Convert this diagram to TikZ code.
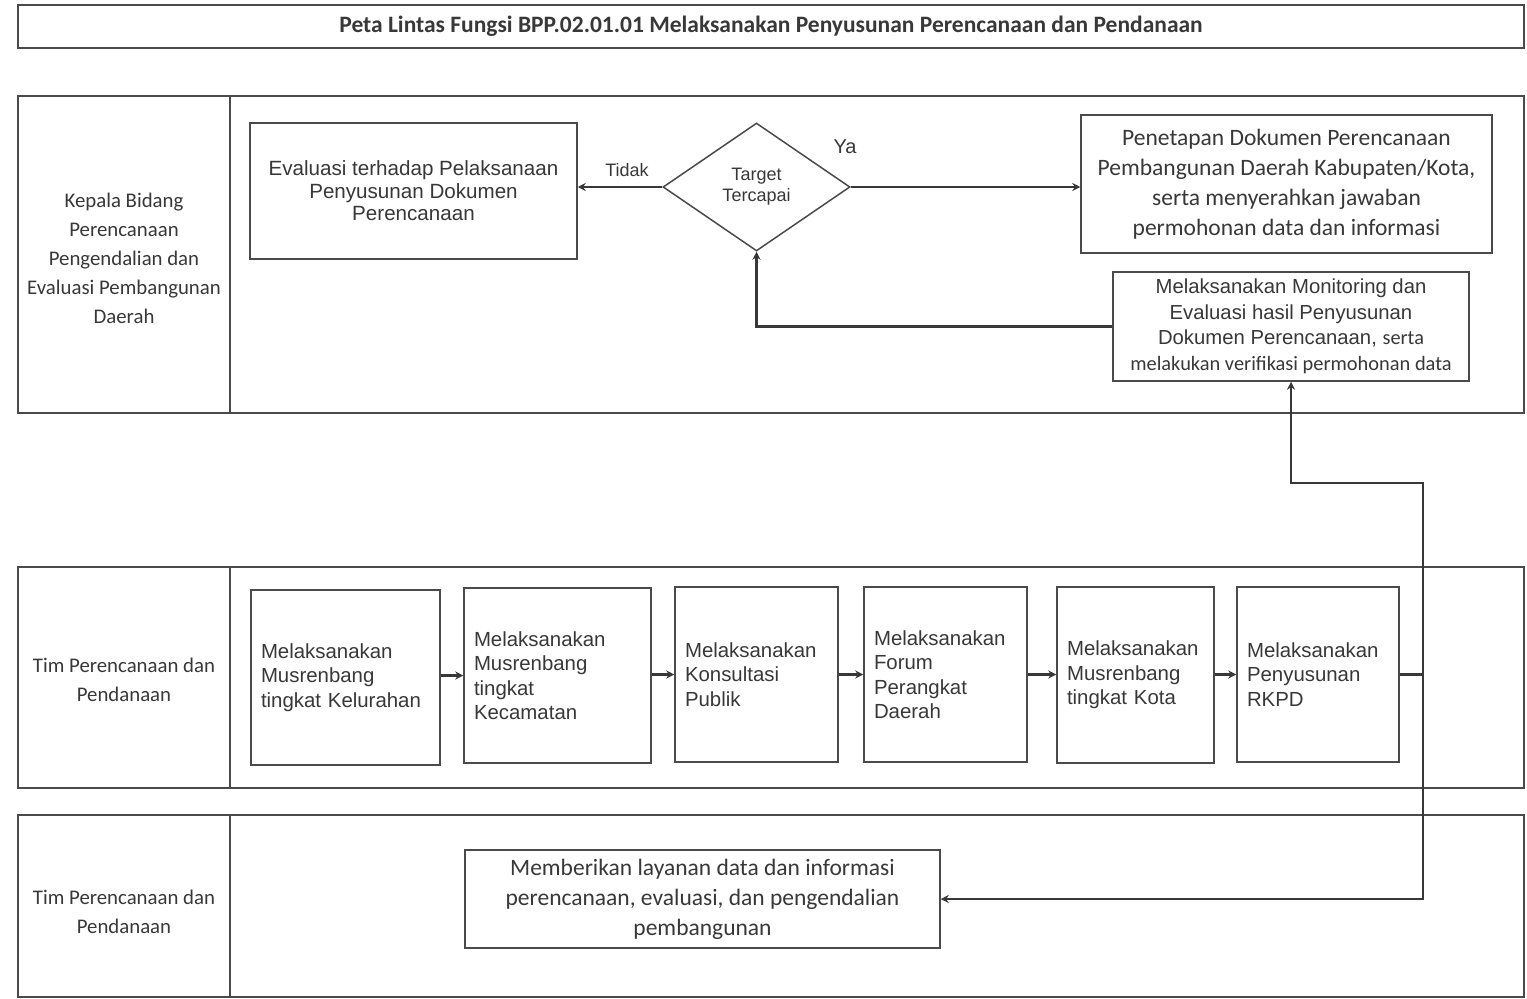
\documentclass[tikz,border=0pt]{standalone}
\usepackage{fontspec}
\setmainfont{Liberation Sans}
\newfontfamily\carl{Carlito}
\usetikzlibrary{arrows.meta,shapes.geometric}
\definecolor{ink}{HTML}{383838}
\definecolor{edge}{HTML}{4A4A4A}
\begin{document}
\begin{tikzpicture}[x=1pt,y=-1pt,
  lane/.style={draw=edge,line width=1.5pt},
  box/.style={draw=edge,line width=1.5pt,rectangle,inner sep=0pt,text=ink},
  abox/.style={box,align=center,font=\fontsize{20.6}{24.5}\selectfont},
  sbox/.style={box,align=left,font=\fontsize{20.4}{24.5}\selectfont},
  cbox/.style={box,align=center,font=\carl\fontsize{23.5}{30}\selectfont},
  conn/.style={draw=ink,line width=2.6pt},
  arr/.style={conn,-{Stealth[length=8pt,width=8pt]}},
  lbl/.style={text=ink,align=center,font=\carl\fontsize{20.8}{29}\selectfont},
  small/.style={text=ink,font=\fontsize{18}{21}\selectfont}
]
\useasboundingbox (0,0) rectangle (1527,999);
\fill[white] (0,0) rectangle (1527,999);

% title
\node[box,minimum width=1506pt,minimum height=43pt,font=\carl\bfseries\fontsize{23.5}{26}\selectfont] (title) at (771,26.5)
  {Peta Lintas Fungsi BPP.02.01.01 Melaksanakan Penyusunan Perencanaan dan Pendanaan};

% lanes
\draw[lane] (18,96) rectangle (1524,413);
\draw[lane] (230,96) -- (230,413);
\draw[lane] (18,567) rectangle (1524,788);
\draw[lane] (230,567) -- (230,788);
\draw[lane] (18,815) rectangle (1524,997);
\draw[lane] (230,815) -- (230,997);

\node[lbl] (l1) at (124,258) {Kepala Bidang\\Perencanaan\\Pengendalian dan\\Evaluasi Pembangunan\\Daerah};
\node[lbl] (l2) at (124,680) {Tim Perencanaan dan\\Pendanaan};
\node[lbl] (l3) at (124,912) {Tim Perencanaan dan\\Pendanaan};

% lane 1
\node[abox,minimum width=327pt,minimum height=136pt] (eval) at (413.5,191)
  {Evaluasi terhadap Pelaksanaan\\[-2pt]Penyusunan Dokumen\\[-2pt]Perencanaan};
\node[draw=edge,line width=1.5pt,diamond,aspect=1.46,inner sep=0pt,minimum width=187pt,minimum height=128pt,
  text=ink,align=center,font=\fontsize{18}{21}\selectfont] (dia) at (756.5,187) {Target\\Tercapai};
\node[cbox,minimum width=411pt,minimum height=138pt] (pen) at (1286.5,184)
  {Penetapan Dokumen Perencanaan\\Pembangunan Daerah Kabupaten/Kota,\\serta menyerahkan jawaban\\permohonan data dan informasi};
\node[box,align=center,minimum width=356pt,minimum height=109pt,font=\fontsize{20.3}{25.5}\selectfont] (mon) at (1291,326.5)
  {Melaksanakan Monitoring dan\\Evaluasi hasil Penyusunan\\Dokumen Perencanaan, {\carl serta}\\{\carl\fontsize{20.4}{25.5}\selectfont melakukan verifikasi permohonan data}};
\node[small] (tidak) at (627,170) {Tidak};
\node[text=ink,font=\fontsize{20}{24}\selectfont] (ya) at (845,147) {Ya};

% lane 2
\node[sbox,minimum width=189pt,minimum height=175pt,text width=169pt] (b1) at (345.5,677.5)
  {Melaksanakan\\Musrenbang\\tingkat Kelurahan};
\node[sbox,minimum width=187pt,minimum height=175pt,text width=167pt] (b2) at (557.5,675.5)
  {Melaksanakan\\Musrenbang\\tingkat\\Kecamatan};
\node[sbox,minimum width=163pt,minimum height=175pt,text width=143pt] (b3) at (756.5,674.5)
  {Melaksanakan\\Konsultasi\\Publik};
\node[sbox,minimum width=163pt,minimum height=175pt,text width=143pt] (b4) at (945.5,674.5)
  {Melaksanakan\\Forum\\Perangkat\\Daerah};
\node[sbox,minimum width=157pt,minimum height=176pt,text width=137pt] (b5) at (1135.5,675)
  {Melaksanakan\\Musrenbang\\tingkat Kota};
\node[sbox,minimum width=162pt,minimum height=175pt,text width=142pt] (b6) at (1318,674.5)
  {Melaksanakan\\Penyusunan\\RKPD};

% lane 3
\node[cbox,minimum width=475pt,minimum height=98pt] (memb) at (702.5,899)
  {Memberikan layanan data dan informasi\\perencanaan, evaluasi, dan pengendalian\\pembangunan};

% connectors
\coordinate (ja) at (1423,674.5);
\coordinate (jt) at (1423,483);
\draw[arr] (dia.west) -- (dia.west -| eval.east);
\draw[arr] (dia.east) -- (dia.east -| pen.west);
\draw[arr] (mon.west) -| (dia.south);
\draw[arr] (b1.east |- b2.east) -- (b2.west);
\draw[arr] (b2.east |- b3.east) -- (b3.west);
\draw[arr] (b3.east) -- (b4.west);
\draw[arr] (b4.east) -- (b4.east -| b5.west);
\draw[arr] (b5.east |- b6.east) -- (b6.west);
\draw[conn] (b6.east) -- (ja);
\draw[arr] (ja) -- (jt) -| (mon.south);
\draw[arr] (ja) |- (memb.east);
\end{tikzpicture}
\end{document}
